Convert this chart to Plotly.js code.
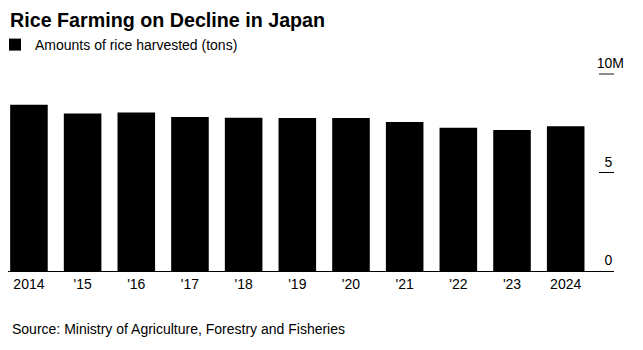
<!DOCTYPE html>
<html>
<head>
<meta charset="utf-8">
<script src="https://cdn.plot.ly/plotly-3.0.1.min.js"></script>
<style>
html,body{margin:0;padding:0;background:#fff;}
#chart{width:643px;height:350px;}
</style>
</head>
<body>
<div id="chart"></div>
<script>
// Data
var years = [2014, 2015, 2016, 2017, 2018, 2019, 2020, 2021, 2022, 2023, 2024];
var yearLabels = ["2014", "'15", "'16", "'17", "'18", "'19", "'20", "'21", "'22", "'23", "2024"];
var riceHarvestTons = [8435000, 7989000, 8042000, 7822000, 7780000, 7762000, 7763000, 7563000, 7269000, 7161000, 7345000];
var yTickValues = [0, 5000000, 10000000];
var yTickLabels = ["0\u00A0\u00A0\u00A0", "5\u00A0\u00A0\u00A0", "10M"];
var seriesName = "Amounts of rice harvested (tons)";
var chartTitle = "Rice Farming on Decline in Japan";
var sourceText = "Source: Ministry of Agriculture, Forestry and Fisheries";

var FONT = "Liberation Sans, Arial, Helvetica, sans-serif";

// plot area geometry (pixels)
var plotTop = 50, plotBottom = 271, plotLeft = 8, plotRight = 614;
var plotH = plotBottom - plotTop, plotW = plotRight - plotLeft;

var trace = {
  type: 'bar',
  x: years,
  y: riceHarvestTons,
  name: seriesName,
  marker: {color: '#000000', line: {width: 0}},
  showlegend: true,
  hoverinfo: 'x+y'
};

var layout = {
  width: 643,
  height: 350,
  paper_bgcolor: '#ffffff',
  plot_bgcolor: '#ffffff',
  margin: {l: plotLeft, r: 643 - plotRight, t: plotTop, b: 350 - plotBottom, pad: 0, autoexpand: false},
  font: {family: FONT, size: 14, color: '#000000'},
  bargap: 0.3,
  title: {
    text: '<b>' + chartTitle + '</b>',
    font: {family: FONT, size: 19.7, color: '#000000'},
    xref: 'container', yref: 'container',
    x: 10/643, xanchor: 'left',
    y: 1 - 20/350, yanchor: 'middle'
  },
  showlegend: true,
  legend: {
    orientation: 'h',
    xref: 'paper', yref: 'container',
    x: (-5 - plotLeft)/plotW, xanchor: 'left',
    y: 1 - 45/350, yanchor: 'middle',
    font: {family: FONT, size: 14, color: '#000000'},
    bgcolor: 'rgba(0,0,0,0)',
    borderwidth: 0
  },
  xaxis: {
    range: [2013.61, 2024.9],
    tickmode: 'array',
    tickvals: years,
    ticktext: yearLabels,
    showgrid: false,
    zeroline: false,
    showline: true,
    linecolor: '#000000',
    linewidth: 1,
    ticks: '',
    tickfont: {family: FONT, size: 14, color: '#000000'},
    automargin: false,
    fixedrange: true
  },
  yaxis: {
    side: 'right',
    range: [0, 10000000 * plotH / (plotBottom - 74)],
    tickmode: 'array',
    tickvals: yTickValues,
    ticktext: yTickLabels,
    showgrid: false,
    zeroline: false,
    showline: false,
    ticks: 'inside',
    ticklen: 15,
    tickwidth: 1.5,
    tickcolor: '#000000',
    ticklabelposition: 'inside top',
    ticklabelstandoff: -13,
    tickfont: {family: FONT, size: 14, color: '#000000'},
    automargin: false,
    fixedrange: true
  },
  shapes: [{
    type: 'line',
    xref: 'paper', yref: 'y',
    x0: 1 - 15/plotW, x1: 1,
    y0: yTickValues[2], y1: yTickValues[2],
    line: {color: '#8c8c8c', width: 2},
    layer: 'above'
  }],
  annotations: [{
    text: sourceText,
    xref: 'paper', yref: 'paper',
    x: (10 - plotLeft)/plotW, xanchor: 'left',
    y: (plotBottom - 329)/plotH, yanchor: 'middle',
    showarrow: false,
    font: {family: FONT, size: 14, color: '#000000'}
  }]
};

Plotly.newPlot('chart', [trace], layout, {displayModeBar: false, staticPlot: true});
</script>
</body>
</html>
